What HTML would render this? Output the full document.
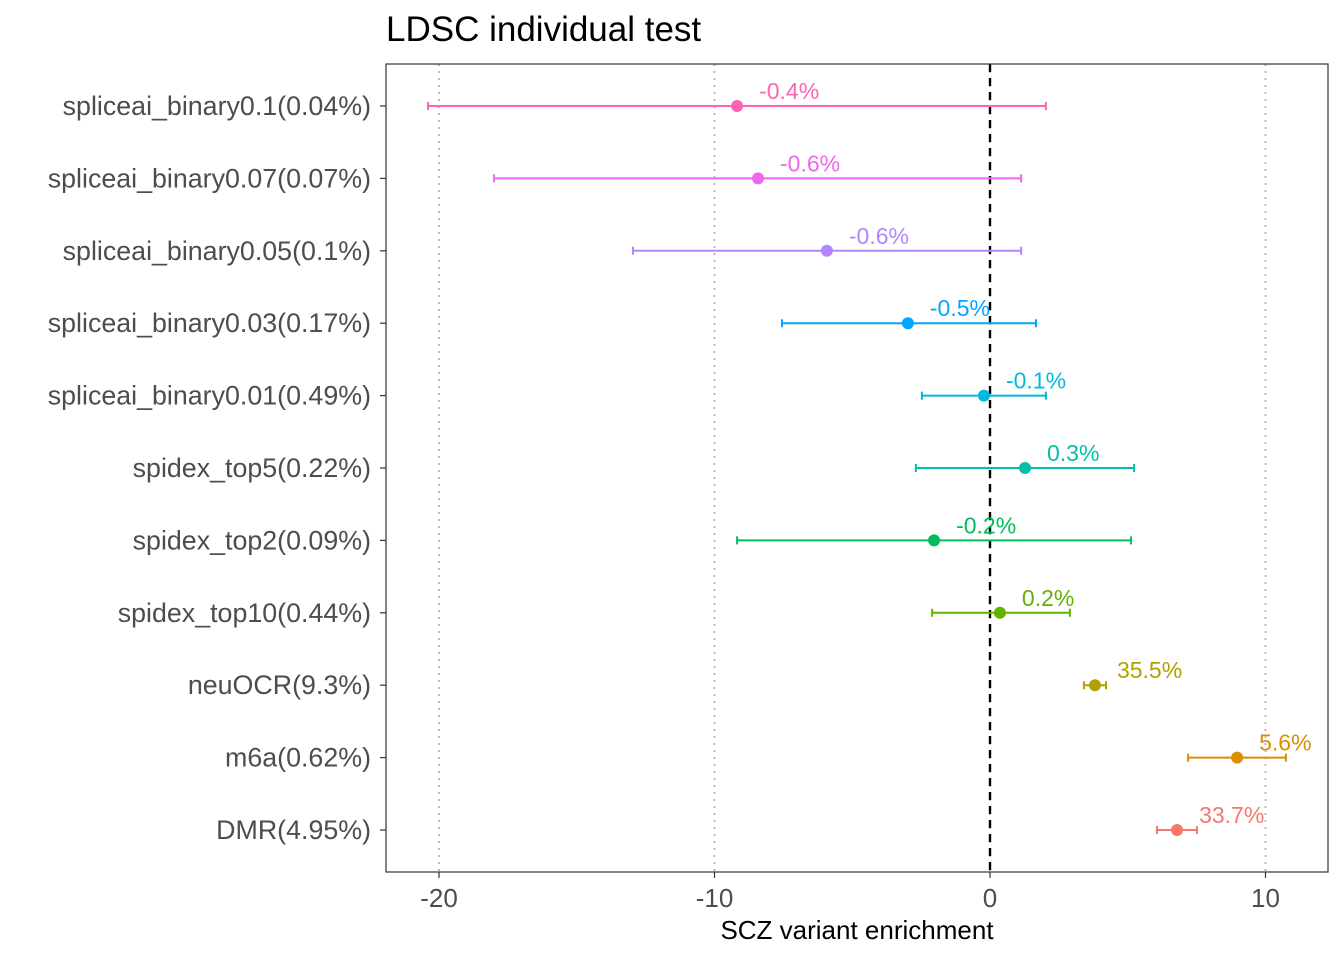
<!DOCTYPE html>
<html><head><meta charset="utf-8"><style>
body{margin:0;background:#fff;font-family:"Liberation Sans",sans-serif}
</style></head><body>
<svg id="chart" width="1344" height="960" xmlns="http://www.w3.org/2000/svg">
<text x="386" y="41" font-size="35" fill="#000">LDSC individual test</text>
<g id="grid"></g>
<g id="marks"></g>
<rect x="386" y="64" width="942" height="808" fill="none" stroke="#333" stroke-width="1.2"/>
<g id="axes"></g>
<text x="857" y="939" font-size="26" text-anchor="middle" fill="#000">SCZ variant enrichment</text>
</svg>
<script>
const categories=["DMR(4.95%)","m6a(0.62%)","neuOCR(9.3%)","spidex_top10(0.44%)","spidex_top2(0.09%)","spidex_top5(0.22%)","spliceai_binary0.01(0.49%)","spliceai_binary0.03(0.17%)","spliceai_binary0.05(0.1%)","spliceai_binary0.07(0.07%)","spliceai_binary0.1(0.04%)"];
const estimates=[6.79,8.97,3.81,0.36,-2.03,1.27,-0.22,-2.98,-5.92,-8.42,-9.18];
const lower=[6.06,7.19,3.41,-2.1,-9.18,-2.69,-2.47,-7.55,-12.96,-18.0,-20.4];
const upper=[7.51,10.74,4.21,2.9,5.12,5.23,2.03,1.67,1.13,1.13,2.03];
const pctLabels=["33.7%","5.6%","35.5%","0.2%","-0.2%","0.3%","-0.1%","-0.5%","-0.6%","-0.6%","-0.4%"];
const colors=["#F8766D","#DB8E00","#AEA200","#64B200","#00BD5C","#00C1A7","#00BADE","#00A6FF","#B385FF","#EF67EB","#FF63B6"];
const xTicks=[-20,-10,0,10];
const NS="http://www.w3.org/2000/svg";
const xs=v=>990+v*27.55;
const ys=i=>830-i*72.4;
function mk(parent,tag,attrs,text){const e=document.createElementNS(NS,tag);for(const k in attrs)e.setAttribute(k,attrs[k]);if(text!==undefined)e.textContent=text;document.getElementById(parent).appendChild(e);return e;}
xTicks.forEach(t=>{
 const g=mk("grid","line",{x1:xs(t),x2:xs(t),y1:64,y2:872,stroke:"#bbb","stroke-width":2,"stroke-dasharray":"2,5"});
 
 
 const tk=mk("axes","line",{x1:xs(t),x2:xs(t),y1:872,y2:878,stroke:"#333","stroke-width":1.2});
 
 
 const tl=mk("axes","text",{x:xs(t),y:907,"font-size":26,"text-anchor":"middle",fill:"#4d4d4d"},String(t));
 
 
});
const z=mk("grid","line",{x1:xs(0),x2:xs(0),y1:64,y2:872,stroke:"#000","stroke-width":2.4,"stroke-dasharray":"8,6"});


categories.forEach((c,i)=>{
 const y=ys(i),col=colors[i];
 const tk=mk("axes","line",{x1:380,x2:386,y1:y,y2:y,stroke:"#333","stroke-width":1.2});
 
 
 const lb=mk("axes","text",{x:371,y:y+9,"font-size":26.8,"text-anchor":"end",fill:"#4d4d4d"},c);
 
 
 const eb=mk("marks","path",{d:`M${xs(lower[i])},${y}H${xs(upper[i])}M${xs(lower[i])},${y-4}V${y+4}M${xs(upper[i])},${y-4}V${y+4}`,stroke:col,"stroke-width":2,fill:"none"});
 
 
 const pt=mk("marks","circle",{cx:xs(estimates[i]),cy:y,r:6,fill:col});
 
 
 const tx=mk("marks","text",{x:xs(estimates[i])+22,y:y-7,"font-size":23,fill:col},pctLabels[i]);
 
 
});
</script>
</body></html>
